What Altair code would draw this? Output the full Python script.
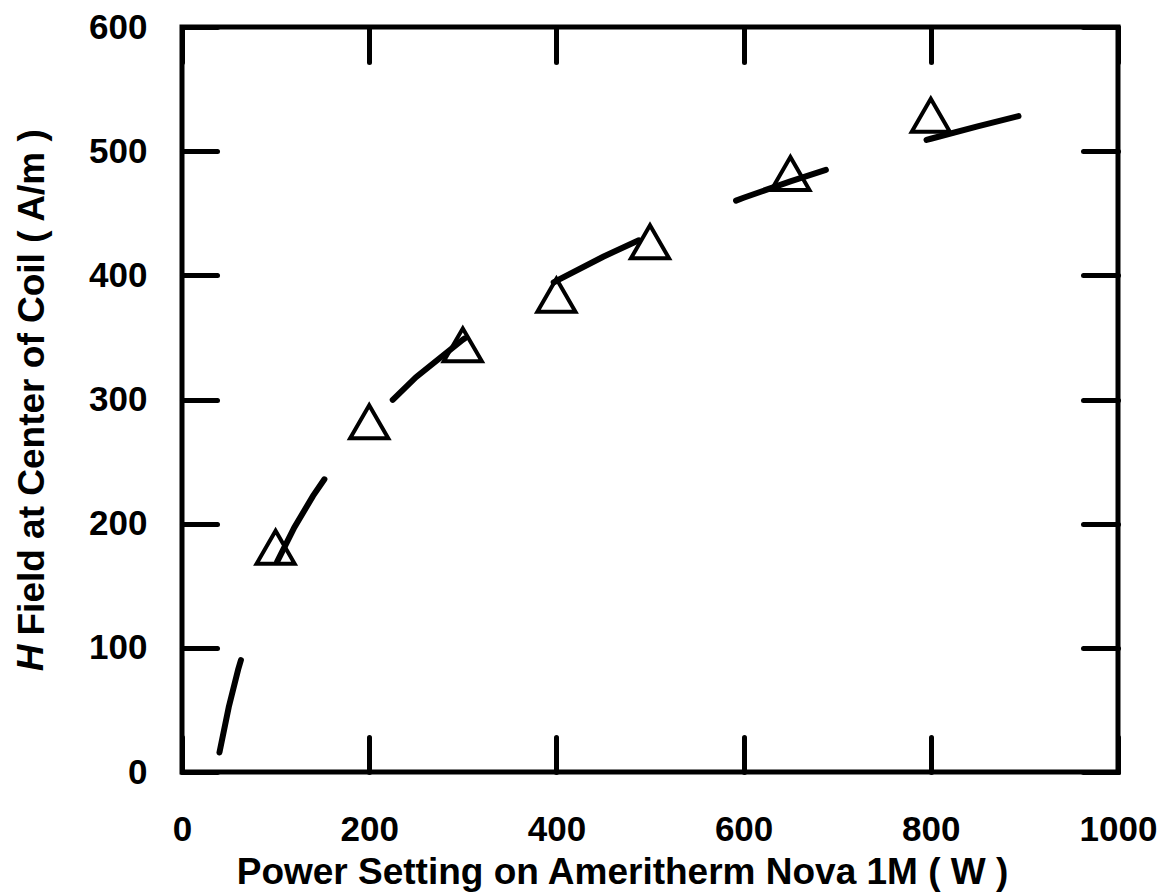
import altair as alt
import pandas as pd

# Measured data (triangles)
power_pts = [100, 200, 300, 400, 500, 650, 800]
field_pts = [181, 282, 344, 384, 427, 482, 529]

# Fitted curve (dashed line)
fit_power = [40, 50, 60, 70, 80, 90, 100, 120, 140, 160, 180, 200, 250, 300,
             350, 400, 450, 500, 550, 600, 650, 700, 750, 800, 850, 900]
fit_field = [15.7, 52.5, 82.6, 108.0, 130.0, 149.5, 166.9, 196.9, 222.4, 244.4,
             263.8, 281.2, 318.0, 348.1, 373.6, 395.6, 415.0, 432.4, 448.1,
             462.5, 475.7, 487.9, 499.3, 510.0, 520.0, 529.4]

x_ticks = [0, 200, 400, 600, 800, 1000]
y_ticks = [0, 100, 200, 300, 400, 500, 600]

x_title = "Power Setting on Ameritherm Nova 1M ( W )"
y_title_italic = "H"
y_title_rest = "Field at Center of Coil ( A/m )"

W, H = 936, 745
FONT = "Liberation Sans"
TFS = 37
LFS = 35

pts = pd.DataFrame({"P": power_pts, "H": field_pts})
fit = pd.DataFrame({"P": fit_power, "H": fit_field})

xs = alt.Scale(domain=[0, 1000], nice=False, zero=False)
ys = alt.Scale(domain=[0, 600], nice=False)


def tick_axis(orient, offset, values):
    return alt.Axis(orient=orient, offset=offset, values=values, labels=False,
                    domain=False, grid=False, ticks=True, tickSize=35,
                    tickWidth=5, tickColor="black", tickCap="round")


main_x_axis = alt.Axis(orient="bottom", values=x_ticks, ticks=False, tickSize=0,
                       domain=False, grid=False, labelPadding=40, format="d",
                       labelFontSize=LFS, labelFont=FONT, labelFontWeight="bold",
                       labelColor="black", labelFlush=False,
                       title=x_title, titleFontSize=TFS, titleFont=FONT,
                       titleFontWeight="bold", titleColor="black",
                       titleX=440, titleY=111, titleBaseline="alphabetic",
                       titleAlign="center")
main_y_axis = alt.Axis(orient="left", values=y_ticks, ticks=False, tickSize=0,
                       domain=False, grid=False, labelPadding=35, format="d",
                       labelFontSize=LFS, labelFont=FONT, labelFontWeight="bold",
                       labelColor="black", labelFlush=False,
                       title=y_title_rest, titleFontSize=TFS, titleFont=FONT,
                       titleFontWeight="bold", titleColor="black",
                       titleAngle=270, titleX=-139, titleY=608,
                       titleAlign="left", titleBaseline="alphabetic")

ghost = alt.Chart(pts).mark_point(opacity=0).encode(
    x=alt.X("P:Q", scale=xs, axis=tick_axis("bottom", -H, x_ticks), title=None),
    y=alt.Y("H:Q", scale=ys, axis=tick_axis("left", -W, y_ticks), title=None),
)

line = alt.Chart(fit).mark_line(color="black", strokeWidth=6,
                                strokeDash=[95, 105], strokeCap="round").encode(
    x=alt.X("P:Q", scale=xs, axis=main_x_axis),
    y=alt.Y("H:Q", scale=ys, axis=main_y_axis),
)

points = alt.Chart(pts).mark_point(shape="triangle-up", size=1450, filled=False,
                                   color="black", strokeWidth=4,
                                   opacity=1).encode(
    x=alt.X("P:Q", scale=xs, axis=tick_axis("top", -H, x_ticks), title=None),
    y=alt.Y("H:Q", scale=ys, axis=tick_axis("right", -W, y_ticks), title=None),
)

h_label = alt.Chart(pd.DataFrame({"t": [y_title_italic]})).mark_text(
    font=FONT, fontSize=TFS, fontWeight="bold", fontStyle="italic", angle=270,
    align="center", baseline="alphabetic", color="black").encode(
    text="t:N", x=alt.value(-139), y=alt.value(631))

chart = alt.layer(ghost, line, points, h_label).resolve_axis(
    x="independent", y="independent"
).properties(
    width=W, height=H,
    autosize=alt.AutoSizeParams(type="none"),
    padding={"left": 174, "top": 19, "right": 40, "bottom": 120},
    background="white",
).configure_view(stroke="black", strokeWidth=5)

chart.save("out.html", embed_options={"renderer": "svg", "actions": False})
